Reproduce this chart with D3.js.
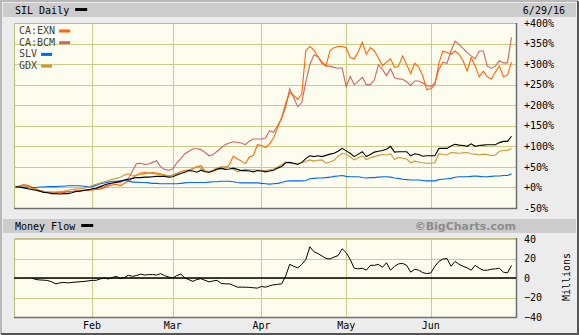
<!DOCTYPE html>
<html>
<head>
<meta charset="utf-8">
<script src="https://cdn.jsdelivr.net/npm/d3@7"></script>
<style>
body { margin: 0; background: #fff; }
svg text { font-family: "DejaVu Sans Mono", monospace; font-size: 10px; fill: #000; }
</style>
</head>
<body>
<svg width="579" height="335"></svg>
<script>
// % change since start, one value per trading day (Jan 4 .. Jun 29 2016)
var sil = [2, 1, -1, -3, -5, -7, -9, -12, -13, -15, -15, -16, -15, -15, -13, -10, -9, -7, -6, -3, -2, 2, 6, 9, 11, 13, 15, 18, 20, 22, 24,
    24, 25, 25, 26, 27, 27, 27, 25, 26, 30, 34, 37, 41, 40, 37, 42, 38, 37, 40, 45, 47, 44, 45, 47, 44, 41, 41, 40, 38, 41,
    40, 38, 40, 42, 47, 51, 60, 61, 59, 56, 61, 70, 77, 75, 77, 75, 78, 81, 83, 88, 95, 89, 83, 75, 81, 87, 75, 80, 86, 88, 90,
    93, 100, 86, 87, 87, 87, 77, 82, 80, 76, 77, 77, 77, 95, 95, 95, 101, 105, 103, 102, 100, 106, 100, 102, 103, 104, 104, 104, 109, 112, 112, 124];
var exn = [0, 4, 7, 5, 1, -3, -7, -10, -11, -12, -12, -12, -11, -10, -10, -9, -8, -8, -7, -6, -5, -4, -1, 3, 6, 8, 4, 10, 15, 22, 30,
    35, 36, 35, 36, 35, 33, 30, 28, 30, 34, 38, 41, 43, 46, 50, 53, 40, 38, 42,
    43, 45, 48, 55, 76, 70, 64, 58, 74, 78, 104, 102, 97,
    106, 120, 145, 170, 205, 231, 224, 214, 227, 333, 343, 334, 318, 305, 296, 333, 340, 343, 343, 340, 316, 313, 330, 353, 324, 340, 332, 315, 296,
    305, 313, 292, 295, 320, 299, 277, 302, 293, 271, 238, 240, 250, 303, 332, 328, 324, 332, 324, 308, 283, 316, 295, 269, 283, 269, 264, 281, 295, 269, 273, 305];
var bcm = [0, 3, 5, 3, -1, -5, -8, -11, -12, -13, -13, -12, -12, -11, -10, -9, -8, -7, -6, -5, -3, -1, 2, 6, 10, 13, 12, 18, 22, 40, 58,
    59, 56, 57, 61, 65, 50, 44, 42, 45, 60, 70, 82, 88, 94, 94, 92, 85, 77, 80, 88, 96, 104, 108, 111, 110, 108, 104, 113, 118, 118,
    118, 120, 138, 134, 150, 168, 195, 240, 218, 196, 207, 257, 299, 322, 318, 302, 295, 295, 292, 290, 291, 245, 270, 250, 258, 268, 250, 250, 262, 298, 287,
    272, 289, 267, 264, 263, 257, 248, 259, 259, 254, 248, 246, 254, 287, 305, 302, 332, 356, 348, 338, 328, 320, 313, 332, 332, 295, 290, 295, 308, 303, 303, 365];
var slv = [0, 1, 1, 0, 0, 0, 1, 1, 2, 2, 2, 3, 3, 4, 4, 4, 4, 3, 2, 2, 5, 9, 11, 13, 15, 15, 16, 17, 16, 13, 13,
    12, 12, 11, 10, 10, 9, 9, 9, 9, 9, 10, 11, 12, 12, 12, 12, 12, 13, 14, 14, 15, 15, 15, 14, 12, 11, 11, 11, 11, 11,
    10, 9, 8, 9, 10, 12, 15, 16, 16, 16, 16, 17, 21, 22, 23, 23, 24, 25, 27, 28, 29, 27, 26, 26, 26, 24, 23, 24, 24, 25, 26,
    26, 25, 23, 22, 20, 19, 18, 18, 18, 17, 16, 16, 16, 19, 20, 21, 22, 25, 26, 26, 26, 27, 28, 27, 26, 26, 27, 28, 28, 29, 29, 33];
var gdx = [0, 3, 5, 2, -2, -5, -8, -10, -11, -11, -11, -10, -9, -7, -5, -4, -3, -2, 1, 4, 8, 11, 14, 17, 20, 22, 25, 30, 33, 28, 30,
    31, 33, 35, 34, 32, 31, 30, 28, 30, 34, 38, 40, 42, 45, 52, 46, 40, 38, 42, 48, 50, 50, 49, 44, 38, 42, 44, 43, 43, 42,
    42, 41, 43, 45, 50, 55, 62, 60, 57, 59, 60, 63, 67, 64, 66, 67, 59, 62, 66, 76, 83, 81, 74, 67, 72, 77, 68, 72, 75, 78, 80,
    79, 82, 68, 73, 71, 69, 60, 64, 62, 60, 59, 59, 60, 82, 80, 79, 85, 84, 83, 84, 85, 82, 81, 79, 81, 80, 77, 79, 88, 90, 90, 95];

// money flow (millions), starts at trading day 4
var mfStart = 4;
var moneyFlow = [0, -1.5, -2, -2.2, -2.6, -4, -6, -5, -4.5, -5, -4.5, -4.2, -3.8, -3.5, -3, -2.4, -2.4, -1, 0, -1, 0.5, 1.7, -0.5, 0.5,
    2.8, 1.7, 2.5, 4, 3, 3.5, 3.5, 3, 4.5, 2.4, 1, 0, 2.5, 4, 0, -1.7, -3.5, -1.5, -0.7, -2.4, -4, -3, -2.4, -5.5, -6, -6,
    -7.5, -9.4, -9.4, -9.4, -9.6, -10, -10.4, -8.7, -9.4, -8, -7, -6.5, -6, 2, 14, 12, 10.4, 14, 19, 32, 27, 25, 22.6, 20,
    19.5, 21.5, 23, 30, 26, 19, 10, 9.4, 10, 8, 13, 13, 14, 11, 15.7, 8, 12, 14.5, 15, 13, 6, 9, 8, 5.5, 4.5, 5.2,
    12, 17, 19.5, 20, 12, 17, 14, 12, 10.4, 8, 13, 10, 8, 8, 9, 9.4, 10, 6, 5.2, 13];

var months = ["Feb", "Mar", "Apr", "May", "Jun"];
var monthIdx = [19, 39, 61, 82, 103];
var pctTicks = [-50, 0, 50, 100, 150, 200, 250, 300, 350, 400];
var mfTicks = [-40, -20, 0, 20, 40];
var legendNames = ["CA:EXN", "CA:BCM", "SLV", "GDX"];
var legendColors = ["#ff6600", "#cc6666", "#0066ff", "#cc9933"];

var svg = d3.select('svg');

var defs = svg.append('defs');
var pat = defs.append('pattern').attr('id', 'dots')
    .attr('width', 2).attr('height', 2).attr('patternUnits', 'userSpaceOnUse');
pat.append('rect').attr('width', 2).attr('height', 2).attr('fill', '#ffffc8');
pat.append('rect').attr('width', 1).attr('height', 1).attr('fill', '#fdfdf0');
pat.append('rect').attr('x', 1).attr('y', 1).attr('width', 1).attr('height', 1).attr('fill', '#fdfdf0');

// frame
svg.append('rect').attr('width', 579).attr('height', 335).attr('fill', '#ececec');
svg.append('path').attr('d', 'M1,334V1H578').attr('fill', 'none').attr('stroke', '#b8b8b8').attr('stroke-width', 2);
svg.append('path').attr('d', 'M578,1V334H1').attr('fill', 'none').attr('stroke', '#555').attr('stroke-width', 2);

var x = d3.scaleLinear().domain([0, 123]).range([15.5, 511.5]);
var y = d3.scaleLinear().domain([-50, 400]).range([208, 23]);
var ym = d3.scaleLinear().domain([-40, 40]).range([317, 239]);

var L = 14, R = 516;

function header(y0, label) {
    svg.append('rect').attr('x', 3).attr('y', y0).attr('width', 573).attr('height', 14).attr('fill', '#cccccc');
    var t = svg.append('text').attr('x', 15).attr('y', y0 + 11).text(label);
    var w = t.node().getComputedTextLength();
    svg.append('rect').attr('x', 15 + w + 6).attr('y', y0 + 5).attr('width', 12).attr('height', 3).attr('fill', '#000');
}
header(3, 'SIL Daily');
svg.append('text').attr('x', 565).attr('y', 14).attr('text-anchor', 'end').text('6/29/16');
header(219, 'Money Flow');
svg.append('text').attr('x', 516).attr('y', 230).attr('text-anchor', 'end')
    .style('font-family', '"DejaVu Sans", sans-serif').style('font-weight', 'bold').style('font-size', '11px')
    .style('fill', '#8c8c8c').text('\u00a9BigCharts.com');

function panel(top, bottom, ys, ticks) {
    svg.append('rect').attr('x', L).attr('y', top).attr('width', R - L).attr('height', bottom - top).attr('fill', 'url(#dots)');
    var g = svg.append('g');
    g.selectAll('.h').data(ticks).enter().append('line')
        .attr('x1', L).attr('x2', R)
        .attr('y1', d => Math.round(ys(d)) + 0.5).attr('y2', d => Math.round(ys(d)) + 0.5)
        .attr('stroke', '#cccc8a');
    g.selectAll('.v').data(monthIdx).enter().append('line')
        .attr('x1', d => Math.round(x(d)) + 0.5).attr('x2', d => Math.round(x(d)) + 0.5)
        .attr('y1', top).attr('y2', bottom)
        .attr('stroke', '#cccc8a');
    svg.append('path').attr('d', 'M' + (L + 0.5) + ',' + bottom + 'V' + (top + 0.5) + 'H' + R)
        .attr('fill', 'none').attr('stroke', '#bcbc80');
    svg.append('path').attr('d', 'M' + (R + 0.5) + ',' + top + 'V' + (bottom + 0.5) + 'H' + L)
        .attr('fill', 'none').attr('stroke', '#707070').attr('stroke-width', 1.5);
}
panel(23, 208, y, pctTicks);
panel(238, 317, ym, mfTicks);

// right axes
var ay = svg.append('g').attr('transform', 'translate(' + R + ',0)')
    .call(d3.axisRight(y).tickValues(pctTicks).tickSize(0).tickPadding(8)
        .tickFormat(d => (d >= 0 ? '+' : '') + d + '%'));
ay.select('.domain').remove();
var am = svg.append('g').attr('transform', 'translate(' + R + ',0)')
    .call(d3.axisRight(ym).tickValues(mfTicks).tickSize(0).tickPadding(8));
am.select('.domain').remove();
svg.selectAll('.tick text').attr('font-family', null).attr('font-size', null).attr('fill', '#000');

svg.append('text').attr('transform', 'translate(570,277) rotate(-90)').attr('text-anchor', 'middle').text('Millions');

// month labels
svg.selectAll('.month').data(months).enter().append('text')
    .attr('x', (d, i) => x(monthIdx[i])).attr('y', 329).attr('text-anchor', 'middle').text(d => d);

// price lines
var line = d3.line().x((d, i) => x(i)).y(d => y(d));
[[bcm, '#cc6666'], [exn, '#ff6600'], [slv, '#0066ff'], [gdx, '#cc9933'], [sil, '#000']].forEach(function(s) {
    svg.append('path').attr('d', line(s[0])).attr('fill', 'none').attr('stroke', s[1]).attr('stroke-width', 1.1);
});

// legend
var lg = svg.append('g');
legendNames.forEach(function(n, i) {
    var t = lg.append('text').attr('x', 19).attr('y', 34 + i * 11.7).style('fill', '#444').text(n);
    var w = t.node().getComputedTextLength();
    lg.append('rect').attr('x', 19 + w + 4).attr('y', 29.5 + i * 11.7).attr('width', 11).attr('height', 3).attr('fill', legendColors[i]);
});

// money flow
svg.append('line').attr('x1', L).attr('x2', R).attr('y1', ym(0)).attr('y2', ym(0)).attr('stroke', '#000').attr('stroke-width', 1.3);
var mline = d3.line().x((d, i) => x(i + mfStart)).y(d => ym(d));
svg.append('path').attr('d', mline(moneyFlow)).attr('fill', 'none').attr('stroke', '#000').attr('stroke-width', 1);
</script>
</body>
</html>
